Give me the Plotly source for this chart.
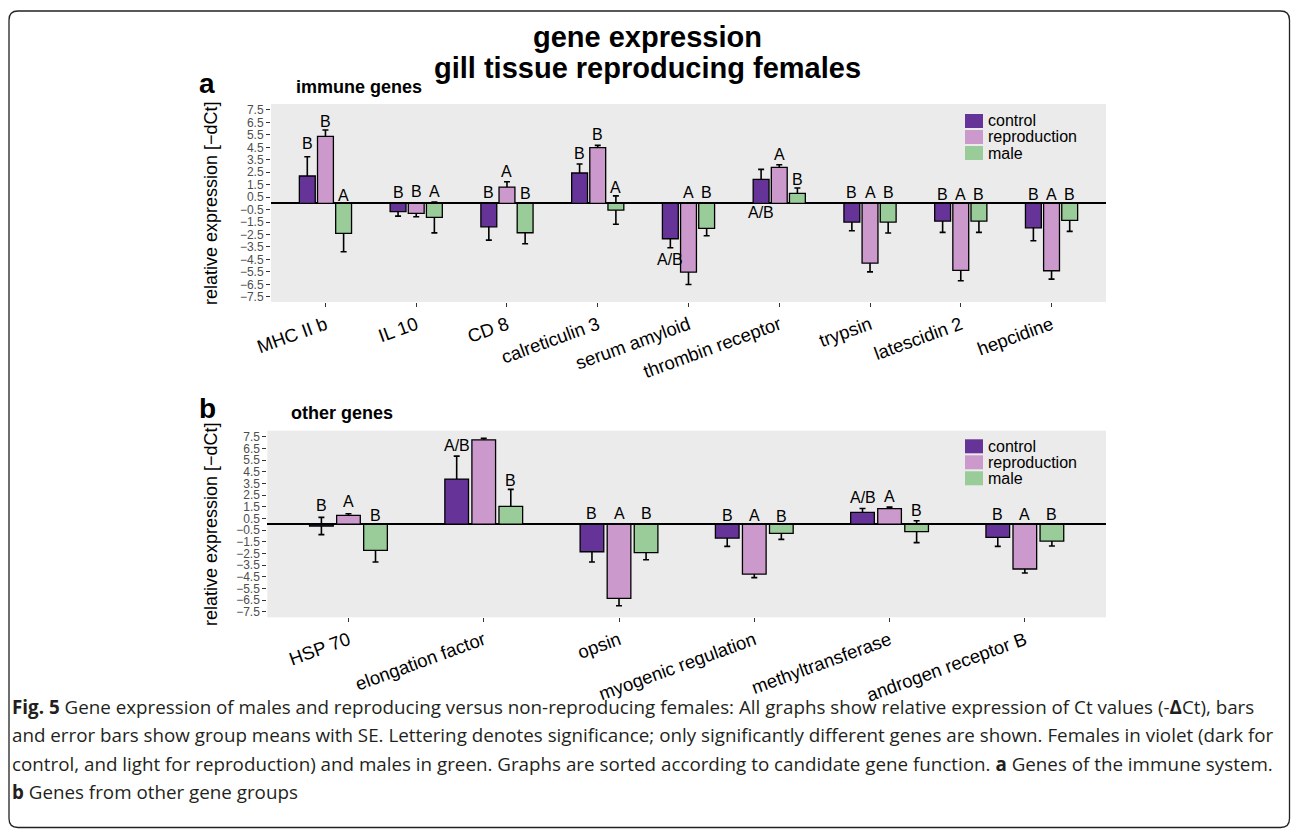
import plotly.graph_objects as go

# ---------------- data ----------------
groups = ["control", "reproduction", "male"]
colors = ["#663399", "#cc99cc", "#99cc99"]

genes_a = ["MHC II b", "IL 10", "CD 8", "calreticulin 3", "serum amyloid",
           "thrombin receptor", "trypsin", "latescidin 2", "hepcidine"]
ctrl_a = [2.20, -0.67, -1.88, 2.44, -2.84, 1.93, -1.50, -1.42, -1.96]
ctrl_a_se = [1.55, 0.35, 1.07, 0.72, 0.72, 0.80, 0.70, 0.91, 1.04]
repro_a = [5.38, -0.80, 1.31, 4.47, -5.52, 2.89, -4.80, -5.38, -5.41]
repro_a_se = [0.51, 0.27, 0.43, 0.19, 0.99, 0.21, 0.70, 0.83, 0.67]
male_a = [-2.41, -1.13, -2.36, -0.54, -2.01, 0.80, -1.50, -1.42, -1.37]
male_a_se = [1.47, 1.24, 0.88, 1.14, 0.59, 0.43, 0.88, 0.91, 0.88]
ctrl_a_let = ["B", "B", "B", "B", "A/B", "A/B", "B", "B", "B"]
repro_a_let = ["B", "B", "A", "B", "A", "A", "A", "A", "A"]
male_a_let = ["A", "A", "B", "A", "B", "B", "B", "B", "B"]
ctrl_a_let_y = [4.82, 0.88, 0.86, 4.00, -4.50, -0.70, 0.91, 0.70, 0.75]
repro_a_let_y = [6.56, 0.99, 2.60, 5.57, 0.91, 3.96, 0.91, 0.75, 0.75]
male_a_let_y = [0.64, 0.94, 0.78, 1.29, 0.91, 1.93, 0.91, 0.70, 0.70]

genes_b = ["HSP 70", "elongation factor", "opsin", "myogenic regulation",
           "methyltransferase", "androgen receptor B"]
ctrl_b = [-0.15, 3.87, -2.36, -1.19, 1.01, -1.13]
ctrl_b_se = [0.74, 1.97, 0.88, 0.71, 0.34, 0.77]
repro_b = [0.76, 7.24, -6.36, -4.27, 1.33, -3.84]
repro_b_se = [0.14, 0.12, 0.63, 0.31, 0.14, 0.34]
male_b = [-2.24, 1.53, -2.44, -0.79, -0.64, -1.44]
male_b_se = [1.00, 1.46, 0.60, 0.51, 0.94, 0.43]
ctrl_b_let = ["B", "A/B", "B", "B", "A/B", "B"]
repro_b_let = ["A", "A", "A", "A", "A", "A"]
male_b_let = ["B", "B", "B", "B", "B", "B"]
ctrl_b_let_y = [1.59, 6.79, 0.93, 0.76, 2.30, 0.84]
repro_b_let_y = [1.93, 8.36, 0.93, 0.76, 2.36, 0.84]
male_b_let_y = [0.79, 3.79, 0.93, 0.70, 1.21, 0.84]

y_ticks = [7.5, 6.5, 5.5, 4.5, 3.5, 2.5, 1.5, 0.5, -0.5, -1.5, -2.5, -3.5,
           -4.5, -5.5, -6.5, -7.5]
y_tick_text = [("\u2212" + f"{abs(v):.1f}") if v < 0 else f"{v:.1f}" for v in y_ticks]

caption_lines = [
    "<b>Fig. 5</b> Gene expression of males and reproducing versus non-reproducing females: All graphs show relative expression of Ct values (-<b>\u0394</b>Ct), bars",
    "and error bars show group means with SE. Lettering denotes significance; only significantly different genes are shown. Females in violet (dark for",
    "control, and light for reproduction) and males in green. Graphs are sorted according to candidate gene function. <b>a</b> Genes of the immune system.",
    "<b>b</b> Genes from other gene groups",
]

# ---------------- layout helpers ----------------
W, H = 1292, 829
def px(x):
    return x / W
def py(y):
    return 1 - y / H

FONT = "Liberation Sans, Arial, Helvetica, sans-serif"
centers = [-0.2, 0.0, 0.2]
bw = 0.175

fig = go.Figure()
annotations = []

panels = [
    dict(genes=genes_a, vals=[ctrl_a, repro_a, male_a], ses=[ctrl_a_se, repro_a_se, male_a_se],
         lets=[ctrl_a_let, repro_a_let, male_a_let], lety=[ctrl_a_let_y, repro_a_let_y, male_a_let_y],
         xa="x", ya="y"),
    dict(genes=genes_b, vals=[ctrl_b, repro_b, male_b], ses=[ctrl_b_se, repro_b_se, male_b_se],
         lets=[ctrl_b_let, repro_b_let, male_b_let], lety=[ctrl_b_let_y, repro_b_let_y, male_b_let_y],
         xa="x2", ya="y2"),
]

for p in panels:
    # error bars first (drawn beneath the bars, like the original)
    for gi in range(3):
        fig.add_trace(go.Bar(
            x=p["genes"], y=p["vals"][gi], xaxis=p["xa"], yaxis=p["ya"],
            offset=centers[gi] - bw / 2, width=bw,
            marker=dict(color="rgba(0,0,0,0)", line=dict(width=0)),
            error_y=dict(type="data", array=p["ses"][gi], symmetric=True,
                         color="black", thickness=1.6, width=3),
            showlegend=False, hoverinfo="skip"))
    for gi in range(3):
        fig.add_trace(go.Bar(
            x=p["genes"], y=p["vals"][gi], xaxis=p["xa"], yaxis=p["ya"],
            offset=centers[gi] - bw / 2, width=bw, name=groups[gi],
            marker=dict(color=colors[gi], line=dict(color="black", width=1.3)),
            showlegend=False))
    for gi in range(3):
        for i, g in enumerate(p["genes"]):
            annotations.append(dict(
                x=i + centers[gi], y=p["lety"][gi][i], xref=p["xa"], yref=p["ya"],
                text=p["lets"][gi][i], showarrow=False, xanchor="center", yanchor="middle",
                font=dict(family=FONT, size=16, color="black")))

# axes
common_y = dict(tickvals=y_ticks, ticktext=y_tick_text, showgrid=False, automargin=False,
                zeroline=True, zerolinecolor="black", zerolinewidth=1.5,
                ticks="outside", ticklen=4, tickcolor="#333333", tickwidth=1,
                tickfont=dict(family=FONT, size=12, color="#4d4d4d"), showline=False)
common_x = dict(type="category", showgrid=False, ticks="outside", ticklen=4, automargin=False,
                tickcolor="#333333", tickwidth=1, tickangle=-20,
                tickfont=dict(family=FONT, size=18.5, color="black"), showline=False)

fig.update_layout(
    width=W, height=H, margin=dict(l=0, r=0, t=0, b=0, pad=0), autosize=False,
    paper_bgcolor="white", plot_bgcolor="#ebebeb",
    barmode="overlay", showlegend=False,
    xaxis=dict(common_x, domain=[px(271), px(1106)], range=[-0.6, 8.6], anchor="y"),
    yaxis=dict(common_y, domain=[py(302), py(104)], range=[-7.92, 7.98], anchor="x"),
    xaxis2=dict(common_x, domain=[px(267.3), px(1106)], range=[-0.6, 5.6], anchor="y2"),
    yaxis2=dict(common_y, domain=[py(617.3), py(430.7)], range=[-7.98, 8.02], anchor="x2"),
)

# manual legends
shapes = []
for top in [114, 439.3]:
    for gi in range(3):
        y0 = top + gi * 16
        shapes.append(dict(type="rect", xref="paper", yref="paper",
                           x0=px(965), x1=px(983), y0=py(y0 + 14), y1=py(y0),
                           fillcolor=colors[gi], line=dict(width=0)))
        annotations.append(dict(x=px(986), y=py(y0 + 7), xref="paper", yref="paper",
                                text=groups[gi], showarrow=False, xanchor="left",
                                yanchor="middle",
                                font=dict(family=FONT, size=16, color="black")))

# border (rounded rectangle)
x0, x1, y0, y1, r = 9, 1289.5, 11, 827.5, 9
path = (f"M {px(x0 + r)},{py(y0)} L {px(x1 - r)},{py(y0)} Q {px(x1)},{py(y0)} {px(x1)},{py(y0 + r)} "
        f"L {px(x1)},{py(y1 - r)} Q {px(x1)},{py(y1)} {px(x1 - r)},{py(y1)} "
        f"L {px(x0 + r)},{py(y1)} Q {px(x0)},{py(y1)} {px(x0)},{py(y1 - r)} "
        f"L {px(x0)},{py(y0 + r)} Q {px(x0)},{py(y0)} {px(x0 + r)},{py(y0)} Z")
shapes.append(dict(type="path", xref="paper", yref="paper", path=path,
                   line=dict(color="#222222", width=1.3)))

# titles and labels
annotations += [
    dict(x=px(647), y=py(37), text="<b>gene expression</b>"),
    dict(x=px(647), y=py(68), text="<b>gill tissue reproducing females</b>"),
]
for a in annotations[-2:]:
    a.update(xref="paper", yref="paper", showarrow=False, xanchor="center", yanchor="middle",
             font=dict(family=FONT, size=29, color="black"))

for lab, lx, ly in [("a", 207, 83), ("b", 207, 408)]:
    annotations.append(dict(x=px(lx), y=py(ly), xref="paper", yref="paper", text=f"<b>{lab}</b>",
                            showarrow=False, xanchor="center", yanchor="middle",
                            font=dict(family=FONT, size=28, color="black")))
for lab, lx, ly in [("immune genes", 294, 87), ("other genes", 289, 413)]:
    annotations.append(dict(x=px(lx), y=py(ly), xref="paper", yref="paper", text=f"<b>{lab}</b>",
                            showarrow=False, xanchor="left", yanchor="middle",
                            font=dict(family=FONT, size=18, color="black")))
for ly in [203, 524]:
    annotations.append(dict(x=px(211), y=py(ly), xref="paper", yref="paper",
                            text="relative expression [\u2212dCt]", textangle=-90,
                            showarrow=False, xanchor="center", yanchor="middle",
                            font=dict(family=FONT, size=18, color="black")))

for k, line in enumerate(caption_lines):
    annotations.append(dict(x=px(10), y=py(706.5 + k * 28.5), xref="paper", yref="paper",
                            text=line, showarrow=False, xanchor="left", yanchor="middle",
                            align="left",
                            font=dict(family="Open Sans, sans-serif", size=18.8, color="#231f20")))

fig.update_layout(annotations=annotations, shapes=shapes)
fig.write_html("out.html")
